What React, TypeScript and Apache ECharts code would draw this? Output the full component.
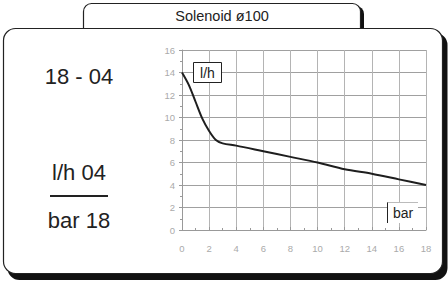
import React, { useEffect, useRef } from "react";
import * as echarts from "echarts";

const pressureBar = [0, 0.5, 1, 1.5, 2, 2.5, 3, 4, 6, 8, 10, 12, 14, 16, 18];
const flowLh = [14, 12.9, 11.4, 9.9, 8.8, 8.0, 7.7, 7.5, 7.0, 6.5, 6.0, 5.4, 5.0, 4.5, 4.0];
const title = "Solenoid ø100";
const rangeText = "18 - 04";
const fracTop = "l/h 04";
const fracBottom = "bar 18";
const yUnit = "l/h";
const xUnit = "bar";

const FONT = "'Liberation Sans', Arial, sans-serif";
const NARROW = "'Liberation Sans Narrow', 'Liberation Sans', Arial, sans-serif";

export default function App() {
  const ref = useRef<HTMLDivElement>(null);
  useEffect(() => {
    document.body.style.margin = "0";
    const chart = echarts.init(ref.current!, null, { renderer: "svg" });
    const data = pressureBar.map((x, i) => [x, flowLh[i]]);
    chart.setOption({
      animation: false,
      backgroundColor: "#ffffff",
      grid: { left: 182, right: 22, top: 50, bottom: 53 },
      xAxis: {
        type: "value",
        min: 0,
        max: 18,
        interval: 2,
        axisLine: { show: true, lineStyle: { color: "#999", width: 1 } },
        axisTick: { show: true, length: 3, inside: true, lineStyle: { color: "#999" } },
        minorTick: { show: true, splitNumber: 2, length: 2, lineStyle: { color: "#999" } },
        axisLabel: { color: "#aaa", fontSize: 9.5, fontFamily: NARROW, margin: 13 },
        splitLine: { show: true, lineStyle: { color: "#b4b4b4", width: 1 } },
      },
      yAxis: {
        type: "value",
        min: 0,
        max: 16,
        interval: 2,
        axisLine: { show: true, lineStyle: { color: "#999", width: 1 } },
        axisTick: { show: true, length: 3, lineStyle: { color: "#999" } },
        minorTick: { show: true, splitNumber: 2, length: 2, lineStyle: { color: "#999" } },
        axisLabel: { color: "#aaa", fontSize: 9.5, fontFamily: NARROW, margin: 7 },
        splitLine: { show: true, lineStyle: { color: "#a0a0a0", width: 1 } },
      },
      series: [
        {
          type: "line",
          data,
          smooth: 0.3,
          showSymbol: false,
          lineStyle: { color: "#1e1e1e", width: 2 },
          z: 5,
        },
      ],
      graphic: [
        {
          type: "group",
          z: -10,
          silent: true,
          children: [
            { type: "rect", shape: { x: 87, y: 6, width: 277, height: 40, r: 8 }, style: { fill: "#111" } },
            {
              type: "rect",
              shape: { x: 83.5, y: 3.5, width: 277, height: 40, r: [8, 8, 0, 0] },
              style: { fill: "#fff", stroke: "#222", lineWidth: 1.2 },
            },
            { type: "rect", shape: { x: 7.5, y: 33, width: 440, height: 247, r: 12 }, style: { fill: "#111" } },
            {
              type: "rect",
              shape: { x: 3.5, y: 28.5, width: 439, height: 245, r: 12 },
              style: { fill: "#fff", stroke: "#222", lineWidth: 1.2 },
            },
          ],
        },
        {
          type: "text",
          x: 222,
          y: 16,
          style: { text: title, fontSize: 14.5, fontFamily: FONT, fill: "#222", align: "center", verticalAlign: "middle" },
        },
        {
          type: "text",
          x: 79,
          y: 76,
          style: { text: rangeText, fontSize: 22, fontFamily: FONT, fill: "#222", align: "center", verticalAlign: "middle" },
        },
        {
          type: "text",
          x: 79,
          y: 172,
          style: { text: fracTop, fontSize: 22, fontFamily: FONT, fill: "#222", align: "center", verticalAlign: "middle" },
        },
        {
          type: "line",
          shape: { x1: 50, y1: 196, x2: 108, y2: 196 },
          style: { stroke: "#222", lineWidth: 2 },
        },
        {
          type: "text",
          x: 79,
          y: 220,
          style: { text: fracBottom, fontSize: 22, fontFamily: FONT, fill: "#222", align: "center", verticalAlign: "middle" },
        },
        {
          type: "rect",
          z: 10,
          shape: { x: 193.5, y: 62.5, width: 28, height: 20 },
          style: { fill: "#fff", stroke: "#222", lineWidth: 1 },
        },
        {
          type: "text",
          z: 11,
          x: 207.5,
          y: 73,
          style: { text: yUnit, fontSize: 14, fontFamily: FONT, fill: "#222", align: "center", verticalAlign: "middle" },
        },
        {
          type: "rect",
          z: 10,
          shape: { x: 387, y: 202, width: 31, height: 21 },
          style: { fill: "#fff" },
        },
        { type: "line", z: 11, shape: { x1: 387.5, y1: 202, x2: 387.5, y2: 223 }, style: { stroke: "#222", lineWidth: 1 } },
        { type: "line", z: 11, shape: { x1: 387.5, y1: 202.5, x2: 418, y2: 202.5 }, style: { stroke: "#bbb", lineWidth: 1 } },
        {
          type: "text",
          z: 11,
          x: 403,
          y: 213,
          style: { text: xUnit, fontSize: 14, fontFamily: FONT, fill: "#222", align: "center", verticalAlign: "middle" },
        },
      ],
    });
    return () => chart.dispose();
  }, []);
  return <div ref={ref} style={{ width: 448, height: 283, position: "absolute", left: 0, top: 0 }} />;
}
